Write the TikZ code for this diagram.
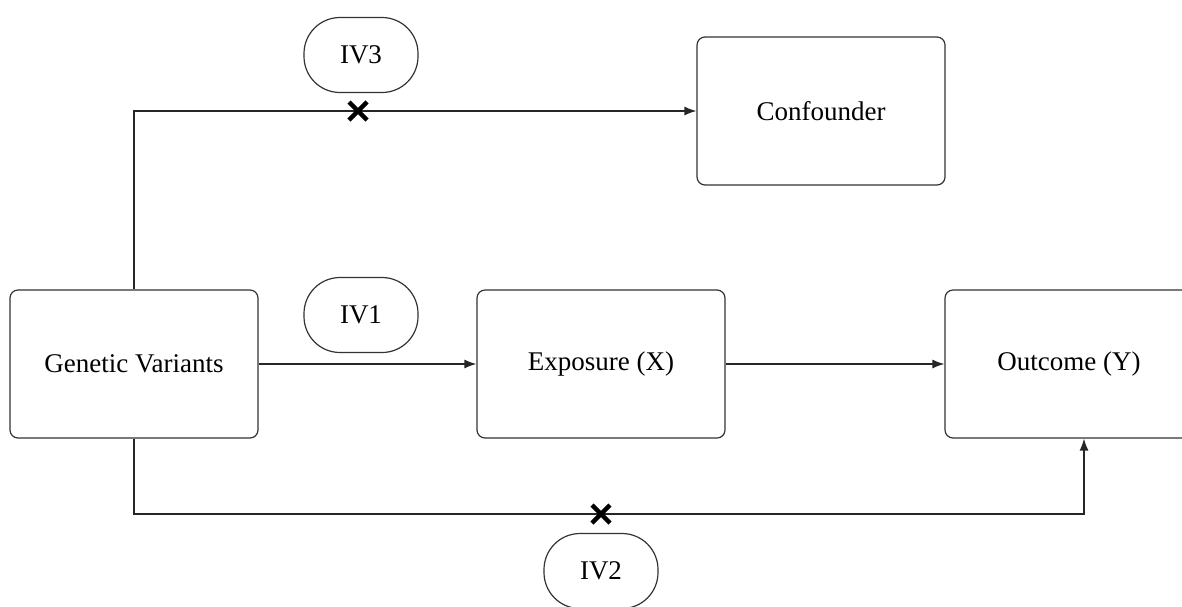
\documentclass[tikz,border=0pt]{standalone}
\usepackage{fontspec}
\setmainfont{Liberation Serif}
\usetikzlibrary{arrows.meta}
\tikzset{
  box/.style={draw=black!80, line width=1.2pt, rounded corners=8pt,
    minimum width=248pt, minimum height=148pt, inner sep=0pt,
    font=\fontsize{27}{32}\selectfont},
  ivlabel/.style={draw=black!80, line width=1.2pt, rounded corners=36pt,
    minimum width=114pt, minimum height=75pt, inner sep=0pt,
    font=\fontsize{27}{32}\selectfont},
  link/.style={draw=black!85, line width=1.3pt,
    -{Latex[length=12pt,width=9pt]}},
  cross/.style={line width=4.5pt, line cap=butt}
}
\begin{document}
\begin{tikzpicture}[x=1pt,y=-1pt]
  \useasboundingbox (0,0) rectangle (1182,606);
  \clip (0,0) rectangle (1182,606);

  % main boxes
  \node[box] (gv)   at (134,364) {Genetic Variants};
  \node[box] (exp)  at (601,364) {Exposure (X)};
  \node[box] (out)  at (1069,364) {Outcome (Y)};
  \node[box] (conf) at (821,111) {Confounder};

  % instrumental-variable assumption labels
  \node[ivlabel] (iv1) at (361,315) {IV1};
  \node[ivlabel] (iv3) at (361,55)  {IV3};
  \node[ivlabel] (iv2) at (601,571) {IV2};

  % bend points of the routed paths
  \coordinate (topbend) at (134,111);
  \coordinate (botleft) at (134,514);
  \coordinate (botright) at (1084,514);

  % connectors
  \draw[link] (gv.east) -- (exp.west);
  \draw[link] (exp.east) -- (out.west);
  \draw[link] (gv.north) -- (topbend) -- (conf.west);
  \draw[link] (gv.south) -- (botleft) -- (botright) -- (out.south -| botright);

  % crossed-out paths
  \coordinate (x3) at (358,111);
  \coordinate (x2) at (601,514);
  \foreach \c in {x3,x2} {
    \draw[cross] ([shift={(-9,-9)}]\c) -- ([shift={(9,9)}]\c);
    \draw[cross] ([shift={(-9,9)}]\c) -- ([shift={(9,-9)}]\c);
  }
\end{tikzpicture}
\end{document}
